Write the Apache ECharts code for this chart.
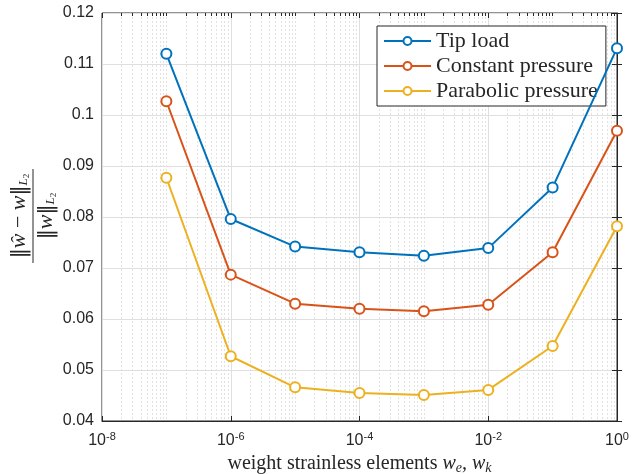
<!DOCTYPE html>
<html>

<head>
	<meta charset="utf-8">
	<title>error vs weight</title>
	<style>
		html, body {
			margin: 0;
			padding: 0;
			background: #fff;
		}

		#chart {
			width: 641px;
			height: 474px;
		}
	</style>
</head>

<body>
	<div id="chart"></div>
</body>
<script type="text/javascript" src="https://cdn.jsdelivr.net/npm/echarts@6/dist/echarts.min.js"></script>
<script type="text/javascript">
	// weights w_e, w_k (x values)
	var weights = [1e-7, 1e-6, 1e-5, 1e-4, 1e-3, 1e-2, 1e-1, 1];
	// relative L2 error per load case
	var tipLoad = [0.1120, 0.0796, 0.0742, 0.0731, 0.0724, 0.0739, 0.0858, 0.1131];
	var constPressure = [0.1027, 0.0687, 0.0630, 0.0620, 0.0615, 0.0628, 0.0731, 0.0969];
	var paraPressure = [0.0877, 0.0527, 0.0466, 0.0455, 0.0451, 0.0461, 0.0547, 0.0782];
	var seriesNames = ["Tip load", "Constant pressure", "Parabolic pressure"];
	// x tick labels are powers of ten (exponents)
	var xTickExp = [-8, -6, -4, -2, 0];
	var yTicks = [0.04, 0.05, 0.06, 0.07, 0.08, 0.09, 0.1, 0.11, 0.12];

	var colors = ['#0072BD', '#D95319', '#EDB120'];
	var axisColor = '#262626';

	// log axis drawn in exponent space
	function toExp(v) {
		return Math.log10(v);
	}

	// minor grid positions: k*10^e that are not labeled decades
	var minorExp = [];
	for (var e = -8; e < 0; e++) {
		for (var k = 1; k <= 9; k++) {
			if (k == 1 && xTickExp.indexOf(e) >= 0) continue;
			minorExp.push(e + Math.log10(k));
		}
	}

	function makeData(vals) {
		var d = [];
		for (var i = 0; i < weights.length; i++) {
			d.push([toExp(weights[i]), vals[i]]);
		}
		return d;
	}

	var allVals = [tipLoad, constPressure, paraPressure];
	var series = [];
	for (var s = 0; s < 3; s++) {
		series.push({
			name: seriesNames[s],
			type: 'line',
			data: makeData(allVals[s]),
			symbol: 'emptyCircle',
			symbolSize: 10,
			lineStyle: { color: colors[s], width: 2 },
			itemStyle: { color: colors[s], borderColor: colors[s], borderWidth: 2 },
			emphasis: { disabled: true },
			z: 5
		});
	}

	// a bare axis that only draws ticks (and optionally grid lines)
	function tickAxis(pos, ticks, len, grid) {
		return {
			type: 'value',
			min: -8,
			max: 0,
			position: pos,
			offset: 0,
			axisLine: { show: false, onZero: false },
			axisLabel: { show: false },
			axisTick: { show: true, inside: true, length: len, customValues: ticks, lineStyle: { color: axisColor } },
			splitLine: { show: grid, lineStyle: { color: '#e2e2e2', type: [2, 2], width: 1 } }
		};
	}

	var serif = 'Liberation Serif';
	var fracRich = {
		n: { fontFamily: 'DejaVu Serif', fontSize: 20, fill: axisColor },
		i: { fontFamily: serif, fontStyle: 'italic', fontSize: 22, fill: axisColor },
		m: { fontFamily: serif, fontSize: 22, fill: axisColor },
		s: { fontFamily: serif, fontStyle: 'italic', fontSize: 13, fill: axisColor, padding: [9, 0, 0, 0] },
		t: { fontFamily: serif, fontSize: 9, fill: axisColor, padding: [14, 0, 0, 0] }
	};

	var myChart = echarts.init(document.getElementById('chart'));
	var option = {
		animation: false,
		grid: {
			left: 102,
			right: 24,
			top: 13,
			bottom: 53,
			outerBoundsMode: 'none',
			containLabel: false,
			show: true,
			borderColor: axisColor,
			borderWidth: 1,
			backgroundColor: 'transparent'
		},
		legend: {
			orient: 'vertical',
			left: 377,
			top: 26,
			data: seriesNames,
			itemWidth: 47,
			itemHeight: 10,
			itemGap: 3,
			padding: [4, 8, 4, 6],
			backgroundColor: '#fff',
			borderColor: axisColor,
			borderWidth: 1,
			borderRadius: 0,
			textStyle: {
				fontFamily: serif,
				fontSize: 22,
				color: axisColor
			}
		},
		xAxis: [{
			type: 'value',
			min: -8,
			max: 0,
			interval: 2,
			position: 'bottom',
			axisLine: { show: true, onZero: false, lineStyle: { color: axisColor } },
			axisTick: { show: true, inside: true, length: 5, lineStyle: { color: axisColor } },
			splitLine: { show: true, lineStyle: { color: '#dfdfdf', width: 1 } },
			axisLabel: {
				margin: 10,
				color: axisColor,
				fontFamily: 'Liberation Sans',
				fontSize: 16,
				formatter: function(v) {
					return '10{sup|' + v + '}';
				},
				rich: {
					sup: { fontSize: 11, verticalAlign: 'top', padding: [0, 0, 9, 0], color: axisColor, fontFamily: 'Liberation Sans' }
				}
			},
			name: 'weight strainless elements {i|w}{sub|e}{i|, w}{sub|k}',
			nameLocation: 'middle',
			nameGap: 31,
			nameTextStyle: {
				fontFamily: serif,
				fontSize: 20,
				color: axisColor,
				rich: {
					i: { fontFamily: serif, fontStyle: 'italic', fontSize: 20, color: axisColor },
					sub: { fontFamily: serif, fontStyle: 'italic', fontSize: 14, color: axisColor, padding: [8, 0, 0, 0] }
				}
			}
		},
			tickAxis('top', minorExp, 3, true),
			tickAxis('top', xTickExp, 5, false)
		],
		yAxis: [{
			type: 'value',
			min: yTicks[0],
			max: yTicks[yTicks.length - 1],
			interval: 0.01,
			position: 'left',
			axisLine: { show: true, lineStyle: { color: axisColor } },
			axisTick: { show: true, inside: true, length: 5, lineStyle: { color: axisColor } },
			splitLine: { show: true, lineStyle: { color: '#dfdfdf', width: 1 } },
			axisLabel: {
				margin: 8,
				color: axisColor,
				fontFamily: 'Liberation Sans',
				fontSize: 16,
				formatter: function(v) {
					return String(+v.toFixed(2));
				}
			}
		}, {
			type: 'value',
			min: yTicks[0],
			max: yTicks[yTicks.length - 1],
			interval: 0.01,
			position: 'right',
			axisLine: { show: false },
			axisTick: { show: true, inside: true, length: 5, lineStyle: { color: axisColor } },
			splitLine: { show: false },
			axisLabel: { show: false }
		}],
		graphic: [{
			// y label: ||w_hat - w||_L2 / ||w||_L2
			type: 'group',
			x: 33,
			y: 216,
			rotation: Math.PI / 2,
			children: [{
				type: 'line',
				shape: { x1: -47, y1: 0, x2: 47, y2: 0 },
				style: { stroke: axisColor, lineWidth: 1 }
			}, {
				type: 'text',
				x: 0,
				y: -2,
				style: {
					text: '{n|‖}{i|ŵ}{m| − }{i|w}{n|‖}{s|L}{t|2}',
					align: 'center',
					verticalAlign: 'bottom',
					rich: fracRich
				}
			}, {
				type: 'text',
				x: 0,
				y: 2,
				style: {
					text: '{n|‖}{i|w}{n|‖}{s|L}{t|2}',
					align: 'center',
					verticalAlign: 'top',
					rich: fracRich
				}
			}]
		}],
		series: series
	};
	myChart.setOption(option);
</script>

</html>
